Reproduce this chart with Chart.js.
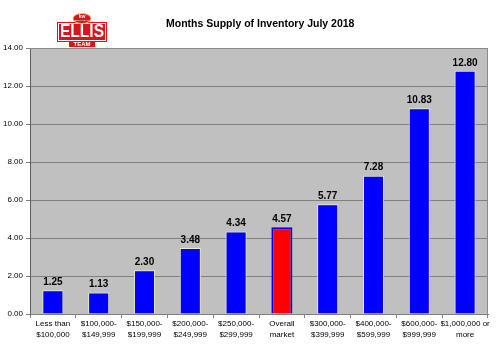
<!DOCTYPE html>
<html>
<head>
<meta charset="utf-8">
<script src="https://cdn.jsdelivr.net/npm/chart.js@4.4.1/dist/chart.umd.min.js"></script>
<style>
  html, body { margin: 0; padding: 0; background: #ffffff; }
  #wrap { width: 500px; height: 345px; position: relative; }
</style>
</head>
<body>
<div id="wrap"><canvas id="c" width="500" height="345"></canvas></div>
<script>
// Price ranges (two-line labels)
const categories = [
  ["Less than", "$100,000"],
  ["$100,000-", "$149,999"],
  ["$150,000-", "$199,999"],
  ["$200,000-", "$249,999"],
  ["$250,000-", "$299,999"],
  ["Overall", "market"],
  ["$300,000-", "$399,999"],
  ["$400,000-", "$599,999"],
  ["$600,000-", "$999,999"],
  ["$1,000,000 or", "more"]
];
// Months of supply for each range
const monthsSupply = [1.25, 1.13, 2.30, 3.48, 4.34, 4.57, 5.77, 7.28, 10.83, 12.80];
// Which bar is the market-wide figure
const highlightIndex = 5;
// Y axis range
const yMin = 0, yMax = 14, yStep = 2;
const chartTitle = "Months Supply of Inventory July 2018";

const fills = monthsSupply.map((v, i) => i === highlightIndex ? "#ff0000" : "#0000ff");
const edges = monthsSupply.map((v, i) => i === highlightIndex ? "#0000ff" : "#f2ecb8");
const edgeWidths = monthsSupply.map((v, i) => i === highlightIndex ? 2 : 1);

// Grey plot background
const plotBackground = {
  id: "plotBackground",
  beforeDraw(chart) {
    const { ctx, chartArea: a } = chart;
    ctx.save();
    ctx.fillStyle = "#c0c0c0";
    ctx.fillRect(a.left, a.top, a.right - a.left, a.bottom - a.top);
    ctx.restore();
  },
  afterDatasetsDraw(chart) {
    const { ctx, chartArea: a } = chart;
    ctx.save();
    ctx.strokeStyle = "#8a8a8a";
    ctx.lineWidth = 1;
    ctx.beginPath();
    ctx.moveTo(a.left, a.top + 0.5);
    ctx.lineTo(a.right - 0.5, a.top + 0.5);
    ctx.lineTo(a.right - 0.5, a.bottom);
    ctx.stroke();
    ctx.restore();
  }
};

// Value labels above each bar
const valueLabels = {
  id: "valueLabels",
  afterDatasetsDraw(chart) {
    const { ctx } = chart;
    const meta = chart.getDatasetMeta(0);
    ctx.save();
    ctx.font = "bold 10px Arial, 'Liberation Sans', sans-serif";
    ctx.fillStyle = "#000000";
    ctx.textAlign = "center";
    ctx.textBaseline = "bottom";
    meta.data.forEach((bar, i) => {
      ctx.fillText(monthsSupply[i].toFixed(2), bar.x, bar.y - 3);
    });
    ctx.restore();
  }
};

// Title and team badge
const header = {
  id: "header",
  afterDraw(chart) {
    const { ctx } = chart;
    ctx.save();
    ctx.font = "bold 10.5px Arial, 'Liberation Sans', sans-serif";
    ctx.fillStyle = "#000000";
    ctx.textAlign = "left";
    ctx.textBaseline = "middle";
    ctx.fillText(chartTitle, 166, 24);

    const cx = 82;
    // lower band
    ctx.fillStyle = "#d8141c";
    ctx.fillRect(69, 40, 26, 7);
    // main plate
    ctx.fillStyle = "#d8141c";
    ctx.fillRect(57, 22, 50, 20);
    ctx.strokeStyle = "#ffffff";
    ctx.lineWidth = 1;
    ctx.strokeRect(58.5, 23.5, 47, 17);
    // oval on top
    ctx.beginPath();
    ctx.ellipse(cx, 18.5, 9, 5, 0, 0, Math.PI * 2);
    ctx.fillStyle = "#d8141c";
    ctx.fill();
    ctx.strokeStyle = "#e8c870";
    ctx.lineWidth = 1;
    ctx.stroke();
    ctx.fillStyle = "#ffffff";
    ctx.textAlign = "center";
    ctx.font = "bold 5px Arial, sans-serif";
    ctx.fillText("kw", cx, 17);
    ctx.font = "2.5px Arial, sans-serif";
    ctx.fillText("ELLIS TEAM", cx, 20.5);
    // name, squeezed to fit inside the plate
    ctx.font = "bold 18px Arial, 'Liberation Sans', sans-serif";
    ctx.fillStyle = "#ffffff";
    ctx.fillText("ELLIS", cx, 32.5, 44);
    ctx.font = "bold 6px Arial, sans-serif";
    ctx.fillText("TEAM", cx, 44, 22);
    ctx.restore();
  }
};

new Chart(document.getElementById("c"), {
  type: "bar",
  data: {
    labels: categories,
    datasets: [{
      data: monthsSupply,
      backgroundColor: fills,
      borderColor: edges,
      borderWidth: edgeWidths,
      borderSkipped: "bottom",
      categoryPercentage: 1,
      barPercentage: 0.46
    }]
  },
  options: {
    responsive: false,
    animation: false,
    devicePixelRatio: 1,
    layout: { padding: { top: 48, right: 12, bottom: 0, left: 0 } },
    plugins: {
      legend: { display: false },
      tooltip: { enabled: false },
      title: { display: false }
    },
    scales: {
      x: {
        grid: {
          display: true,
          drawOnChartArea: false,
          drawTicks: true,
          tickLength: 4,
          color: "#808080",
          offset: true
        },
        border: { display: true, color: "#808080", width: 1 },
        ticks: {
          color: "#000000",
          font: { family: "Arial, 'Liberation Sans', sans-serif", size: 8, lineHeight: 1.4 },
          maxRotation: 0,
          autoSkip: false,
          padding: 0
        },
        afterFit(scale) { scale.height = 31; }
      },
      y: {
        min: yMin,
        max: yMax,
        ticks: {
          stepSize: yStep,
          color: "#000000",
          font: { family: "Arial, 'Liberation Sans', sans-serif", size: 8 },
          padding: 3,
          callback: (v) => Number(v).toFixed(2)
        },
        grid: {
          color: "#808080",
          lineWidth: 1,
          drawTicks: true,
          tickLength: 4
        },
        border: { display: true, color: "#606060", width: 1 },
        afterFit(scale) { scale.width = 30; }
      }
    }
  },
  plugins: [plotBackground, valueLabels, header]
});
</script>
</body>
</html>
